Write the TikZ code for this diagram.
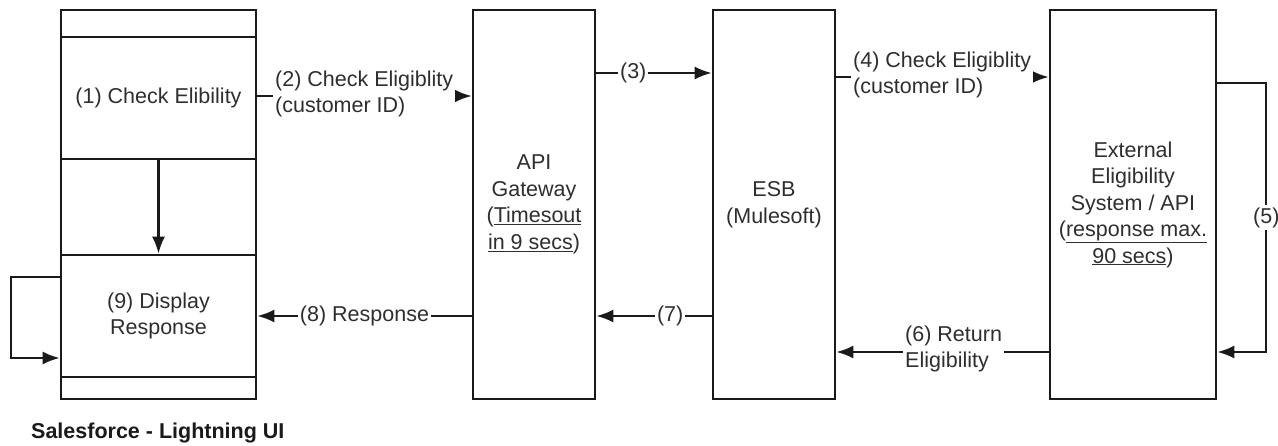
\documentclass[tikz,border=0pt]{standalone}
\usepackage{fontspec}
\setmainfont{Liberation Sans}
\usetikzlibrary{arrows.meta,calc,positioning}
\definecolor{SFink}{HTML}{1A1A1A}
\definecolor{SFtext}{HTML}{2E2E2E}

\begin{document}
\begin{tikzpicture}[
  x=1pt,y=-1pt,
  font=\fontsize{21.5}{26.5}\selectfont,
  line join=miter,
  flow/.style={draw=SFink,line width=2.3pt,-{Latex[length=17pt,width=13pt]}},
  block/.style={draw=SFink,line width=2.6pt,rectangle,inner sep=0pt,align=center,text=SFtext},
  tag/.style={fill=white,text=SFtext,inner sep=2pt,align=left},
  title/.style={font=\bfseries\fontsize{21.5}{26.5}\selectfont,text=SFink,inner sep=0pt}
]
\useasboundingbox (0,0) rectangle (1278,445);

% Rows the connectors run along.
\coordinate (rtwo) at (0,96);
\coordinate (rthree) at (0,73);
\coordinate (rfour) at (0,77);
\coordinate (rfive) at (0,83);
\coordinate (rsix) at (0,352);
\coordinate (rback) at (0,316);

% Salesforce column: outer frame, then the two stacked panels.
\node[block,minimum width=195pt,minimum height=389pt] (sf) at (158.5,204.5) {};
\node[block,minimum width=195pt,minimum height=122pt] (check) at (158.5,98) {(1) Check Elibility};
\node[block,minimum width=195pt,minimum height=122pt] (display) at (158.5,316) {(9) Display\\Response};
\node[title,anchor=west] (sftitle) at (31,433) {Salesforce - Lightning UI};

\node[block,minimum width=122pt,minimum height=389pt] (api) at (534,204.5)
  {API\\Gateway\\(\underline{Timesout}\\\underline{in 9 secs})};
\node[block,minimum width=122pt,minimum height=389pt] (esb) at (774,204.5) {ESB\\(Mulesoft)};
\node[block,minimum width=166pt,minimum height=389pt] (ext) at (1133,204.5)
  {External\\Eligibility\\System / API\\(\underline{response max.}\\\underline{90 secs})};

% Request path.
\draw[flow] (check.south) -- (display.north);
\draw[flow] (check.east |- rtwo) -- (api.west |- rtwo);
\node[tag,anchor=west] (lbltwo) at (273,94) {(2) Check Eligiblity\\(customer ID)};
\draw[flow] (api.east |- rthree) -- node[tag,pos=0.32] (lblthree) {(3)} (esb.west |- rthree);
\draw[flow] (esb.east |- rfour) -- (ext.west |- rfour);
\node[tag,anchor=west] (lblfour) at (851,75) {(4) Check Eligiblity\\(customer ID)};

% Loop back on the external system.
\draw[flow] (ext.east |- rfive) -- ++(49,0) coordinate (fivetop) -- (fivetop |- rsix) -- (ext.east |- rsix);
\node[tag] (lblfive) at ($(fivetop)!0.5!(fivetop |- rsix)$) {(5)};

% Response path.
\draw[flow] (ext.west |- rsix) -- (esb.east |- rsix);
\node[tag,anchor=west] (lblsix) at (903,349) {(6) Return\\Eligibility};
\draw[flow] (esb.west |- rback) -- node[tag,pos=0.36] (lblseven) {(7)} (api.east |- rback);
\draw[flow] (api.west |- rback) -- node[tag,pos=0.5] (lbleight) {(8) Response} (display.east |- rback);
\draw[flow] ([yshift=39pt]display.west) -- ++(-49,0) |- ([yshift=-42pt]display.west);

\end{tikzpicture}
\end{document}
